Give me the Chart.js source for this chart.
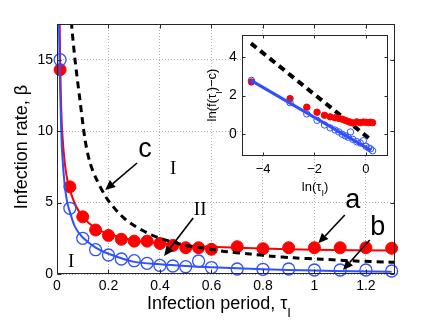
<!DOCTYPE html>
<html><head><meta charset="utf-8">
<script src="https://cdn.jsdelivr.net/npm/chart.js@4/dist/chart.umd.min.js"></script>
<style>
html,body{margin:0;padding:0;background:#fff;}
#wrap{position:relative;width:436px;height:329px;overflow:hidden;}
#main{position:absolute;left:0;top:0;}
#inset{position:absolute;left:200px;top:22px;}
</style></head><body>
<div id="wrap"><canvas id="main" width="436" height="329"></canvas><canvas id="inset" width="200" height="180"></canvas></div>
<script>
// ---- main panel data ----
const tau      = [0.012,0.05,0.1,0.15,0.2,0.25,0.3,0.35,0.4,0.45,0.5,0.55,0.6,0.7,0.8,0.9,1.0,1.1,1.2,1.3];
const betaRed  = [14.3,6.1,4.0,3.08,2.7,2.43,2.3,2.3,2.14,2.0,1.84,1.84,1.73,1.91,1.77,1.84,1.84,1.84,1.84,1.8];
const betaBlue = [15,4.6,2.5,1.7,1.33,1.05,0.93,0.75,0.6,0.56,0.51,0.91,0.45,0.35,0.33,0.35,0.28,0.28,0.28,0.21];
const fitRedTau   = [0.009,0.0105,0.012,0.015,0.02,0.03,0.04,0.05,0.07,0.1,0.15,0.2,0.3,0.4,0.5,0.6,0.8,1.0,1.3];
const fitRedBeta  = [21,17.5,15.5,12.5,10,7.8,6.6,5.9,4.9,4.0,3.2,2.8,2.35,2.15,2.0,1.9,1.78,1.7,1.64];
const fitBlueTau  = [0.0065,0.0075,0.01,0.015,0.02,0.03,0.04,0.05,0.07,0.1,0.15,0.2,0.3,0.4,0.5,0.6,0.8,1.0,1.15,1.3];
const fitBlueBeta = [21,18,14.8,10.9,8.5,6.2,5.0,4.35,3.3,2.55,1.85,1.42,0.85,0.68,0.56,0.47,0.34,0.24,0.19,0.15];
const dashTau  = [0.054,0.057,0.07,0.089,0.109,0.128,0.154,0.193,0.219,0.238,0.264,0.296,0.329,0.368,0.413,0.458,0.5,0.555,0.607,0.66,0.75,0.83,0.92,1.03,1.16,1.28,1.31];
const dashBeta = [18.5,17.4,15.0,12.2,9.4,7.8,6.6,5.3,4.7,4.3,3.85,3.43,3.08,2.73,2.42,2.2,2.0,1.85,1.7,1.56,1.4,1.25,1.13,1.03,0.91,0.84,0.82];
const xTicks = [0,0.2,0.4,0.6,0.8,1,1.2];
const yTicks = [0,5,10,15];
// ---- inset data ----
const lnTau    = [-4.45,-2.95,-2.3,-1.9,-1.61,-1.39,-1.2,-1.05,-0.92,-0.8,-0.69,-0.6,-0.51,-0.36,-0.22,-0.1,0,0.1,0.18,0.26];
const lnRed    = [2.7,1.84,1.4,1.14,0.98,0.9,0.85,0.82,0.78,0.72,0.66,0.62,0.58,0.64,0.6,0.63,0.62,0.6,0.62,0.6];
const lnBlue   = [2.78,1.63,1.05,0.72,0.48,0.33,0.22,0.12,0.0,-0.08,-0.15,0.12,-0.26,-0.38,-0.45,-0.33,-0.62,-0.7,-0.75,-0.85];
const lnFitX   = [-4.47,0.2];
const lnFitY   = [2.78,-0.83];
const lnDashX  = [-4.47,0.16];
const lnDashY  = [4.69,-0.25];
const insetXTicks = [-4,-2,0];
const insetYTicks = [0,2,4];

const RED = '#ff0000', BLUE = '#3050ff';
const SANS = '"Liberation Sans", Arial, sans-serif';
const SERIF = '"Liberation Serif", "Times New Roman", serif';
const mk = (xs, ys) => xs.map((x, i) => ({x: x, y: ys[i]}));

function drawSegs(ctx, segs, x, y, size, family) {
  let total = 0;
  const parts = segs.map(s => {
    const fs = s.sub ? Math.round(size * 0.72) : size;
    ctx.font = fs + 'px ' + family;
    const w = ctx.measureText(s.t).width;
    total += w;
    return {t: s.t, fs: fs, w: w, sub: s.sub};
  });
  let cx = x - total / 2;
  ctx.textAlign = 'left';
  ctx.textBaseline = 'alphabetic';
  parts.forEach(p => {
    ctx.font = p.fs + 'px ' + family;
    ctx.fillText(p.t, cx, y + (p.sub ? size * 0.45 : 0));
    cx += p.w;
  });
}

const framePlugin = {
  id: 'frame',
  beforeDraw(chart, args, o) {
    if (o.fill) {
      const a = chart.chartArea, c = chart.ctx;
      c.save(); c.fillStyle = '#fff';
      c.fillRect(a.left, a.top, a.right - a.left, a.bottom - a.top);
      c.restore();
    }
  },
  afterDraw(chart, args, o) {
    const a = chart.chartArea, c = chart.ctx, sx = chart.scales.x, sy = chart.scales.y;
    c.save();
    c.strokeStyle = '#262626'; c.lineWidth = 1;
    const L = Math.round(a.left) + 0.5, R = Math.round(a.right) - 0.5, T = Math.round(a.top) + 0.5, B = Math.round(a.bottom) - 0.5;
    c.strokeRect(L, T, R - L, B - T);
    const tl = o.tick;
    c.beginPath();
    o.xt.forEach(v => {
      const p = Math.round(sx.getPixelForValue(v)) + 0.5;
      c.moveTo(p, B); c.lineTo(p, B - tl);
      c.moveTo(p, T); c.lineTo(p, T + tl);
    });
    o.yt.forEach(v => {
      const p = Math.round(sy.getPixelForValue(v)) + 0.5;
      c.moveTo(L, p); c.lineTo(L + tl, p);
      c.moveTo(R, p); c.lineTo(R - tl, p);
    });
    c.stroke();
    c.restore();
  }
};

// annotation layout (data coordinates of the main panel)
const notes = [
  {t: 'c',  x: 0.342, y: 8.19, size: 27, fam: SANS},
  {t: 'I',  x: 0.451, y: 7.00, size: 19, fam: SERIF},
  {t: 'II', x: 0.556, y: 4.13, size: 19, fam: SERIF},
  {t: 'I',  x: 0.055, y: 0.49, size: 19, fam: SERIF},
  {t: 'a',  x: 1.149, y: 4.60, size: 27, fam: SANS},
  {t: 'b',  x: 1.246, y: 2.73, size: 27, fam: SANS}
];
const arrows = [
  {x0: 0.311, y0: 7.77, x1: 0.187, y1: 5.88},
  {x0: 0.529, y0: 3.92, x1: 0.416, y1: 1.26},
  {x0: 1.118, y0: 4.13, x1: 1.015, y1: 2.15},
  {x0: 1.215, y0: 2.38, x1: 1.111, y1: 0.28}
];

const mainDeco = {
  id: 'mainDeco',
  afterDraw(chart) {
    const c = chart.ctx, sx = chart.scales.x, sy = chart.scales.y;
    c.save();
    c.fillStyle = '#000'; c.strokeStyle = '#000';
    notes.forEach(n => {
      c.font = n.size + 'px ' + n.fam;
      c.textAlign = 'center'; c.textBaseline = 'alphabetic';
      c.fillText(n.t, sx.getPixelForValue(n.x), sy.getPixelForValue(n.y));
    });
    arrows.forEach(a => {
      const X0 = sx.getPixelForValue(a.x0), Y0 = sy.getPixelForValue(a.y0);
      const X1 = sx.getPixelForValue(a.x1), Y1 = sy.getPixelForValue(a.y1);
      const ang = Math.atan2(Y1 - Y0, X1 - X0), hl = 10, hw = 4.5;
      const bx = X1 - hl * Math.cos(ang), by = Y1 - hl * Math.sin(ang);
      c.lineWidth = 1.6;
      c.beginPath(); c.moveTo(X0, Y0); c.lineTo(bx, by); c.stroke();
      c.beginPath();
      c.moveTo(X1, Y1);
      c.lineTo(bx + hw * Math.sin(ang), by - hw * Math.cos(ang));
      c.lineTo(bx - hw * Math.sin(ang), by + hw * Math.cos(ang));
      c.closePath(); c.fill();
    });
    // axis titles
    c.fillStyle = '#000';
    drawSegs(c, [{t: 'Infection period, τ'}, {t: 'I', sub: true}], 219, 309, 18, SANS);
    c.translate(27, 147); c.rotate(-Math.PI / 2);
    drawSegs(c, [{t: 'Infection rate, β'}], 0, 0, 18, SANS);
    c.restore();
  }
};

const insetDeco = {
  id: 'insetDeco',
  afterDraw(chart) {
    const c = chart.ctx;
    c.save(); c.fillStyle = '#000';
    drawSegs(c, [{t: 'ln(τ'}, {t: 'I', sub: true}, {t: ')'}], 115, 168.5, 13, SANS);
    c.translate(16, 73); c.rotate(-Math.PI / 2);
    drawSegs(c, [{t: 'ln(f(τ'}, {t: 'I', sub: true}, {t: ')−c)'}], 0, 0, 13, SANS);
    c.restore();
  }
};

const fmt = v => (Math.abs(v) < 1e-9 ? '0' : String(Math.round(v * 10) / 10)).replace('-', '−');

new Chart(document.getElementById('main'), {
  type: 'scatter',
  data: {datasets: [
    {data: mk(dashTau, dashBeta), showLine: true, borderColor: '#000', borderWidth: 3, borderDash: [7, 5], pointRadius: 0, tension: 0.3, order: 0},
    {data: mk(tau, betaBlue), borderColor: BLUE, backgroundColor: 'rgba(0,0,0,0)', pointRadius: 6, borderWidth: 1.3, order: 1, clip: false},
    {data: mk(fitBlueTau, fitBlueBeta), showLine: true, borderColor: BLUE, borderWidth: 2, pointRadius: 0, tension: 0.3, order: 2},
    {data: mk(tau, betaRed), borderColor: RED, backgroundColor: RED, pointRadius: 6, borderWidth: 1, order: 3, clip: false},
    {data: mk(fitRedTau, fitRedBeta), showLine: true, borderColor: RED, borderWidth: 2, pointRadius: 0, tension: 0.3, order: 4}
  ]},
  options: {
    responsive: false, animation: false, devicePixelRatio: 1,
    layout: {padding: {left: 0, top: 24, right: 41, bottom: 0}},
    plugins: {legend: {display: false}, tooltip: {enabled: false},
      frame: {tick: 4, xt: xTicks, yt: yTicks, fill: false}},
    scales: {
      x: {type: 'linear', min: 0, max: 1.313,
        afterBuildTicks: s => { s.ticks = xTicks.map(v => ({value: v})); },
        afterFit: s => { s.height = 55; },
        grid: {color: '#b0b0b0', lineWidth: 1, drawTicks: false},
        border: {display: false, dash: [1, 2]},
        ticks: {padding: 4, color: '#000', font: {family: SANS, size: 14}, callback: fmt, maxRotation: 0}},
      y: {type: 'linear', min: 0, max: 17.5,
        afterBuildTicks: s => { s.ticks = yTicks.map(v => ({value: v})); },
        afterFit: s => { s.width = 57; },
        grid: {color: '#b0b0b0', lineWidth: 1, drawTicks: false},
        border: {display: false, dash: [1, 2]},
        ticks: {padding: 4, color: '#000', font: {family: SANS, size: 14}, callback: fmt}}
    }
  },
  plugins: [framePlugin, mainDeco]
});

new Chart(document.getElementById('inset'), {
  type: 'scatter',
  data: {datasets: [
    {data: mk(lnFitX, lnFitY), showLine: true, borderColor: BLUE, borderWidth: 3, pointRadius: 0, order: 0},
    {data: mk(lnTau, lnBlue), borderColor: BLUE, backgroundColor: 'rgba(0,0,0,0)', pointRadius: 3.2, borderWidth: 1, order: 1},
    {data: mk(lnTau, lnRed), borderColor: RED, backgroundColor: RED, pointRadius: 3.2, borderWidth: 1, order: 2},
    {data: mk(lnDashX, lnDashY), showLine: true, borderColor: '#000', borderWidth: 4, borderDash: [7, 5], pointRadius: 0, order: 3}
  ]},
  options: {
    responsive: false, animation: false, devicePixelRatio: 1,
    layout: {padding: {left: 0, top: 8, right: 11.7, bottom: 0}},
    plugins: {legend: {display: false}, tooltip: {enabled: false},
      frame: {tick: 3, xt: insetXTicks, yt: insetYTicks, fill: true}},
    scales: {
      x: {type: 'linear', min: -4.83, max: 0.87,
        afterBuildTicks: s => { s.ticks = insetXTicks.map(v => ({value: v})); },
        afterFit: s => { s.height = 46; },
        grid: {display: false, drawTicks: false},
        border: {display: false},
        ticks: {padding: 6, color: '#000', font: {family: SANS, size: 13}, callback: fmt, maxRotation: 0}},
      y: {type: 'linear', min: -1.12, max: 5.1,
        afterBuildTicks: s => { s.ticks = insetYTicks.map(v => ({value: v})); },
        afterFit: s => { s.width = 41.7; },
        grid: {display: false, drawTicks: false},
        border: {display: false},
        ticks: {padding: 5, color: '#000', font: {family: SANS, size: 14}, callback: fmt}}
    }
  },
  plugins: [framePlugin, insetDeco]
});
</script>
</body></html>
